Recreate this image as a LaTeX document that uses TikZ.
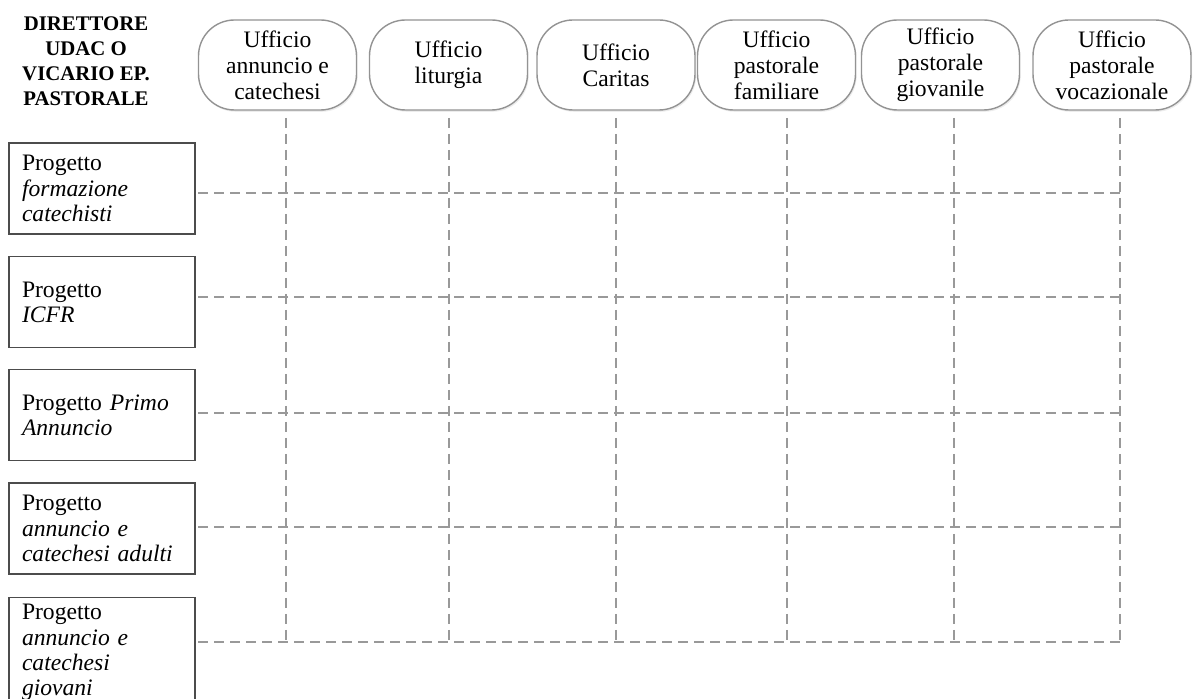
\documentclass[tikz,border=0pt]{standalone}
\usepackage{fontspec}
\setmainfont{Liberation Serif}
\usetikzlibrary{shadows}

\begin{document}
\begin{tikzpicture}[x=0.5pt, y=-0.5pt]

% styles
\tikzstyle{office}=[draw=gray!85, line width=0.7pt, rounded corners=18pt, fill=white, minimum width=79pt, minimum height=45pt, align=center, inner sep=2pt, font=\fontsize{11.8}{13}\selectfont, drop shadow={opacity=0.15, shadow xshift=0.6pt, shadow yshift=-0.9pt}]
\tikzstyle{project}=[draw=black!70, line width=0.7pt, minimum height=45.5pt, text width=80pt, inner xsep=6.5pt, align=left, font=\fontsize{11.8}{12.6}\selectfont]
\tikzstyle{grid}=[gray!80, line width=1.1pt, dash pattern=on 5pt off 3pt]

\useasboundingbox (0,0) rectangle (1196,699);

% header
\node[align=center, font=\fontsize{10.4}{12.5}\selectfont\bfseries] (head) at (86,61) {DIRETTORE\\UDAC O\\VICARIO EP.\\PASTORALE};

% offices
\node[office] (u1) at (277.5,65) {Ufficio\\annuncio e\\catechesi};
\node[office] (u2) at (448.5,65) {Ufficio\\liturgia};
\node[office] (u3) at (616,65) {Ufficio\\Caritas};
\node[office] (u4) at (776.5,65) {Ufficio\\pastorale\\familiare};
\node[office] (u5) at (940.5,65) {Ufficio\\pastorale\\giovanile};
\node[office] (u6) at (1112,65) {Ufficio\\pastorale\\vocazionale};

% projects
\node[project] (p1) at (102,188.5) {Progetto\\\textit{formazione}\\\textit{catechisti}};
\node[project] (p2) at (102,302) {Progetto\\\textit{ICFR}};
\node[project] (p3) at (102,415) {Progetto \textit{Primo}\\\textit{Annuncio}};
\node[project] (p4) at (102,528.5) {Progetto\\\textit{annuncio e}\\\textit{catechesi adulti}};
\node[project, anchor=north] (p5) at (102,597) {Progetto\\\textit{annuncio e}\\\textit{catechesi}\\\textit{giovani}};

% grid ends
\coordinate (c1) at (286,118);
\coordinate (c2) at (449,118);
\coordinate (c3) at (616,118);
\coordinate (c4) at (787,118);
\coordinate (c5) at (954,118);
\coordinate (c6) at (1120,118);

\coordinate (r1) at (198,193);
\coordinate (r2) at (198,297);
\coordinate (r3) at (198,413);
\coordinate (r4) at (198,527);
\coordinate (r5) at (198,642);

% columns
\draw[grid] (c1) -- (c1 |- r5);
\draw[grid] (c2) -- (c2 |- r5);
\draw[grid] (c3) -- (c3 |- r5);
\draw[grid] (c4) -- (c4 |- r5);
\draw[grid] (c5) -- (c5 |- r5);
\draw[grid] (c6) -- (c6 |- r5);

% rows
\draw[grid] (r1) -- (r1 -| c6);
\draw[grid] (r2) -- (r2 -| c6);
\draw[grid] (r3) -- (r3 -| c6);
\draw[grid] (r4) -- (r4 -| c6);
\draw[grid] (r5) -- (r5 -| c6);

\end{tikzpicture}
\end{document}
